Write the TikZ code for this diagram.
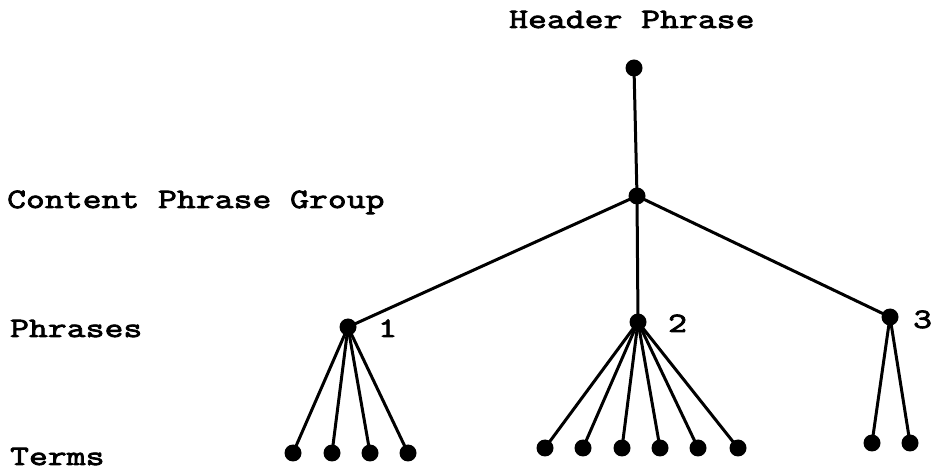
\documentclass[tikz,border=0pt]{standalone}
\usepackage{fontspec}
\setmonofont[FakeStretch=1.3,LetterSpace=0.5,FakeBold=3]{Latin Modern Mono}
\begin{document}
\begin{tikzpicture}[x=1pt,y=1pt,
  dot/.style={circle,fill=black,inner sep=0pt,minimum size=17pt},
  lbl/.style={font=\ttfamily\fontsize{28}{28}\selectfont,inner sep=0pt,anchor=base west},
  edge/.style={line width=3pt}]
\useasboundingbox (0,0) rectangle (934,471);
% level labels
\node[lbl] (hdr) at (509,443) {Header Phrase};
\node[lbl] (lcpg) at (7,263) {Content Phrase Group};
\node[lbl] (lphr) at (10,134) {Phrases};
\node[lbl] (lterm) at (10,6) {Terms};
% tree nodes
\node[dot] (top) at (634,403) {};
\node[dot] (cpg) at (637,275) {};
\node[dot] (p1) at (348,144) {};
\node[dot] (p2) at (638,149) {};
\node[dot] (p3) at (890,154) {};
\node[lbl] (n1) at (378,134) {1};
\node[lbl] (n2) at (668,139) {2};
\node[lbl] (n3) at (913,143) {3};
% terms
\foreach \i/\x in {1/293,2/332,3/370,4/408} \node[dot] (a\i) at (\x,18) {};
\foreach \i/\x in {1/545,2/583,3/622,4/660,5/698,6/738} \node[dot] (b\i) at (\x,23) {};
\foreach \i/\x in {1/872,2/910} \node[dot] (c\i) at (\x,28) {};
% edges
\draw[edge] (top.center) -- (cpg.center);
\draw[edge] (cpg.center) -- (p1.center);
\draw[edge] (cpg.center) -- (p2.center);
\draw[edge] (cpg.center) -- (p3.center);
\foreach \i in {1,...,4} \draw[edge] (p1.center) -- (a\i.center);
\foreach \i in {1,...,6} \draw[edge] (p2.center) -- (b\i.center);
\foreach \i in {1,2} \draw[edge] (p3.center) -- (c\i.center);
\end{tikzpicture}
\end{document}
